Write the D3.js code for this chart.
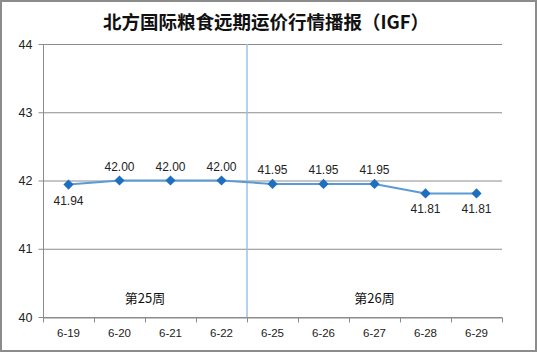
<!DOCTYPE html>
<html><head><meta charset="utf-8">
<script src="https://cdn.jsdelivr.net/npm/d3@7"></script>
<style>
body{margin:0;background:#fff;}
svg{display:block;font-family:"Noto Sans CJK SC","DejaVu Sans",sans-serif;}
</style></head><body>
<svg id="c" width="537" height="352"></svg>
<script>
const categories = ["6-19","6-20","6-21","6-22","6-25","6-26","6-27","6-28","6-29"];
const values = [41.94,42.00,42.00,42.00,41.95,41.95,41.95,41.81,41.81];
const labelPos = ["below","above","above","above","above","above","above","below","below"];
const yTicks = [40,41,42,43,44];
const weeks = [{label:"第25周", from:"6-19", to:"6-22"},{label:"第26周", from:"6-25", to:"6-29"}];
const title = "北方国际粮食远期运价行情播报（IGF）";

const svg = d3.select("#c");
svg.append("rect").attr("x",1).attr("y",1).attr("width",535).attr("height",350)
  .attr("fill","#fff").attr("stroke","#8c8c8c").attr("stroke-width",2);

const L=43,R=502,T=44,B=317;
const x = d3.scaleBand().domain(categories).range([L,R]);
const y = d3.scaleLinear().domain([40,44]).range([B,T]);

svg.append("text").attr("x",266).attr("y",29).attr("text-anchor","middle")
  .attr("font-size",18.5).attr("font-weight","bold").attr("fill","#111").text(title);

// gridlines
svg.append("g").selectAll("line").data(yTicks).join("line")
  .attr("x1",L).attr("x2",R).attr("y1",d=>y(d)+0.5).attr("y2",d=>y(d)+0.5)
  .attr("stroke","#8c8c8c").attr("stroke-width",1);

// y axis
const ya = svg.append("g").attr("transform",`translate(${L+0.5},0)`)
  .call(d3.axisLeft(y).tickValues(yTicks).tickSize(5).tickPadding(6).tickFormat(d3.format("d")));
ya.select(".domain").attr("stroke","#8c8c8c").attr("d",`M0,${T}V${B}`);
ya.selectAll(".tick line").attr("stroke","#8c8c8c");
ya.selectAll(".tick text").attr("font-size",12.5).attr("fill","#222").attr("font-family","Liberation Sans, Arial, sans-serif");

// x axis
const xa = svg.append("g").attr("transform",`translate(0,${B+0.5})`)
  .call(d3.axisBottom(x).tickSize(0).tickPadding(11));
xa.select(".domain").attr("stroke","#8c8c8c");
xa.selectAll(".tick text").attr("font-size",11.5).attr("fill","#222").attr("font-family","Liberation Sans, Arial, sans-serif");
const bounds = categories.map(c=>x(c)).concat([x.range()[1]]);
xa.append("g").selectAll("line").data(bounds).join("line")
  .attr("x1",d=>Math.round(d)+0.5).attr("x2",d=>Math.round(d)+0.5).attr("y1",0).attr("y2",5)
  .attr("stroke","#8c8c8c");

// week separator
const sepX = x(weeks[1].from);
svg.append("line").attr("x1",sepX).attr("x2",sepX).attr("y1",T).attr("y2",B)
  .attr("stroke","#9dc3e6").attr("stroke-width",1.5);

// week labels
svg.append("g").selectAll("text").data(weeks).join("text")
  .attr("x",d=>(x(d.from)+x(d.to)+x.bandwidth())/2).attr("y",303)
  .attr("text-anchor","middle").attr("font-size",13).attr("fill","#111").text(d=>d.label);

const cx = c=>x(c)+x.bandwidth()/2;
const line = d3.line().x((d,i)=>cx(categories[i])).y(d=>y(d));
svg.append("path").datum(values).attr("d",line).attr("fill","none")
  .attr("stroke","#5b9bd5").attr("stroke-width",2);

svg.append("g").selectAll("path").data(values).join("path")
  .attr("d",d3.symbol(d3.symbolSquare, 52))
  .attr("transform",(d,i)=>`translate(${cx(categories[i])},${y(d)}) rotate(45)`)
  .attr("fill","#1f6fc0");

svg.append("g").selectAll("text").data(values).join("text")
  .attr("x",(d,i)=>cx(categories[i])).attr("y",(d,i)=>labelPos[i]==="above"? y(d)-10 : y(d)+20)
  .attr("text-anchor","middle").attr("font-size",12).attr("fill","#222")
  .attr("font-family","Liberation Sans, Arial, sans-serif")
  .text(d=>d.toFixed(2));
</script></body></html>
